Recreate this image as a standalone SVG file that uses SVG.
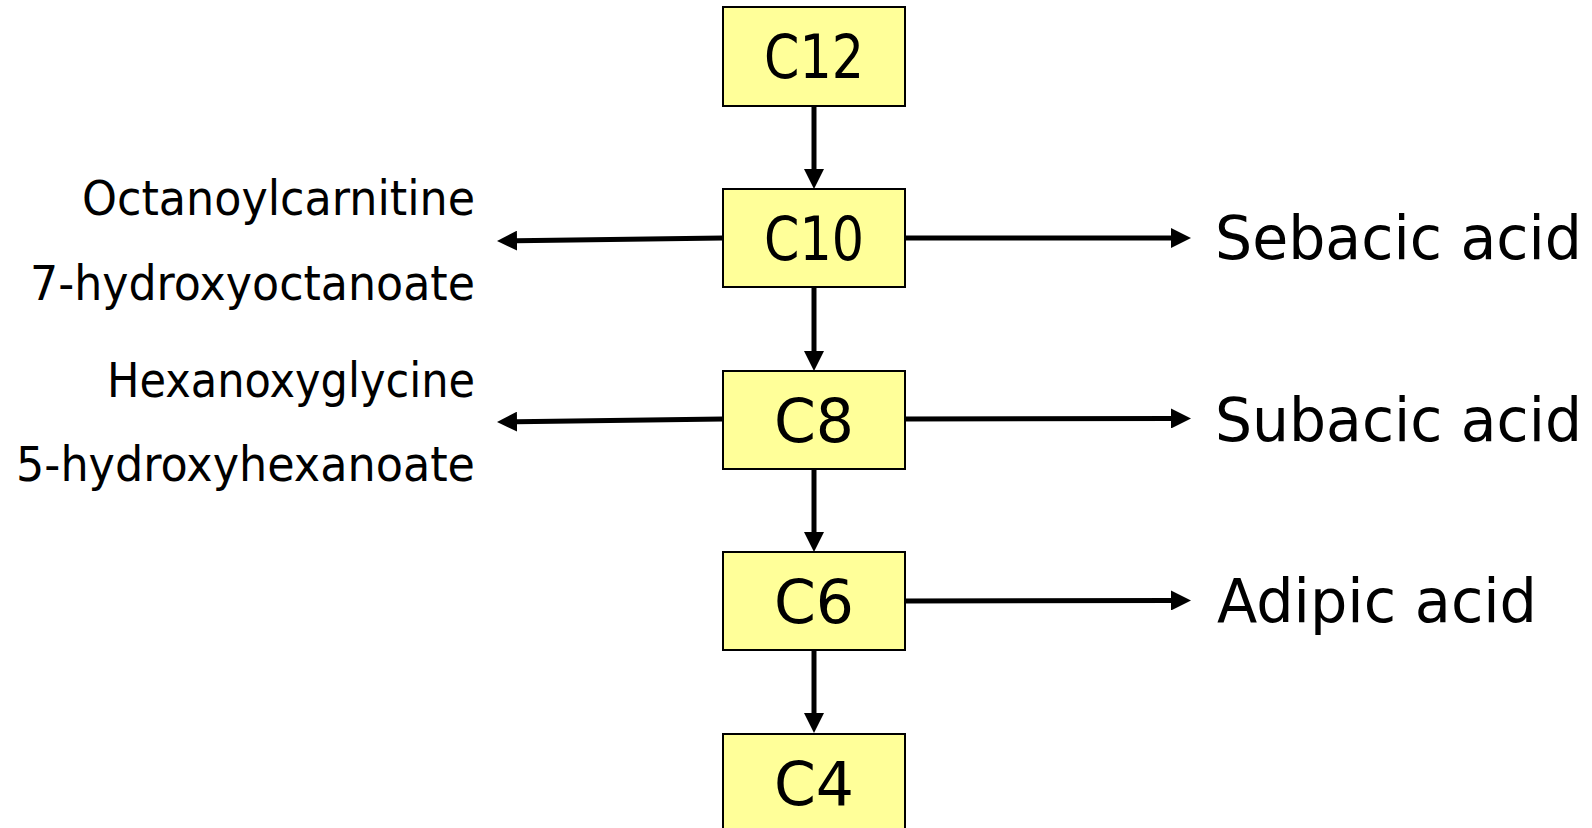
<svg xmlns="http://www.w3.org/2000/svg" width="1592" height="828" viewBox="0 0 1592 828">
<defs>
<style>
.box{fill:#FFFF99;stroke:#000;stroke-width:2}
.bt{font-family:"Comic Sans MS","DejaVu Sans",sans-serif;font-size:60px;fill:#000;text-anchor:middle}
.lt{font-family:"Comic Sans MS","DejaVu Sans",sans-serif;font-size:48px;fill:#000}
.rt{font-family:"Comic Sans MS","DejaVu Sans",sans-serif;font-size:60px;fill:#000}
.conn{stroke:#000;stroke-width:5;fill:none;marker-end:url(#ah)}
</style>
<marker id="ah" markerUnits="userSpaceOnUse" viewBox="0 0 20 20" markerWidth="20" markerHeight="20" refX="1" refY="10" orient="auto">
<path d="M0,0 L20,10 L0,20 z" fill="#000"/>
</marker>
</defs>
<rect width="1592" height="828" fill="#fff"/>
<g id="connectors">
<path class="conn" d="M814,106 L814,170"/>
<path class="conn" d="M814,287 L814,352"/>
<path class="conn" d="M814,469 L814,533"/>
<path class="conn" d="M814,650 L814,714"/>
<path class="conn" d="M723,238 L516,240.7"/>
<path class="conn" d="M723,419 L516,421.7"/>
<path class="conn" d="M905,238 L1172,238"/>
<path class="conn" d="M905,419 L1172,418.5"/>
<path class="conn" d="M905,601 L1172,600.5"/>
</g>
<g id="C12"><rect class="box" x="723" y="7" width="182" height="99"/><text class="bt" x="814" y="78" textLength="100" lengthAdjust="spacingAndGlyphs">C12</text></g>
<g id="C10"><rect class="box" x="723" y="189" width="182" height="98"/><text class="bt" x="814" y="260" textLength="100" lengthAdjust="spacingAndGlyphs">C10</text></g>
<g id="C8"><rect class="box" x="723" y="371" width="182" height="98"/><text class="bt" x="814" y="442">C8</text></g>
<g id="C6"><rect class="box" x="723" y="552" width="182" height="98"/><text class="bt" x="814" y="623">C6</text></g>
<g id="C4"><rect class="box" x="723" y="734" width="182" height="98"/><text class="bt" x="814" y="805">C4</text></g>
<g id="left-labels">
<text class="lt" x="82" y="215" textLength="393" lengthAdjust="spacingAndGlyphs">Octanoylcarnitine</text>
<text class="lt" x="30" y="300" textLength="445" lengthAdjust="spacingAndGlyphs">7-hydroxyoctanoate</text>
<text class="lt" x="107" y="397" textLength="368" lengthAdjust="spacingAndGlyphs">Hexanoxyglycine</text>
<text class="lt" x="16" y="481" textLength="459" lengthAdjust="spacingAndGlyphs">5-hydroxyhexanoate</text>
</g>
<g id="right-labels">
<text class="rt" x="1215" y="259" textLength="367" lengthAdjust="spacingAndGlyphs">Sebacic acid</text>
<text class="rt" x="1215" y="441" textLength="367" lengthAdjust="spacingAndGlyphs">Subacic acid</text>
<text class="rt" x="1217" y="622" textLength="320" lengthAdjust="spacingAndGlyphs">Adipic acid</text>
</g>
</svg>
